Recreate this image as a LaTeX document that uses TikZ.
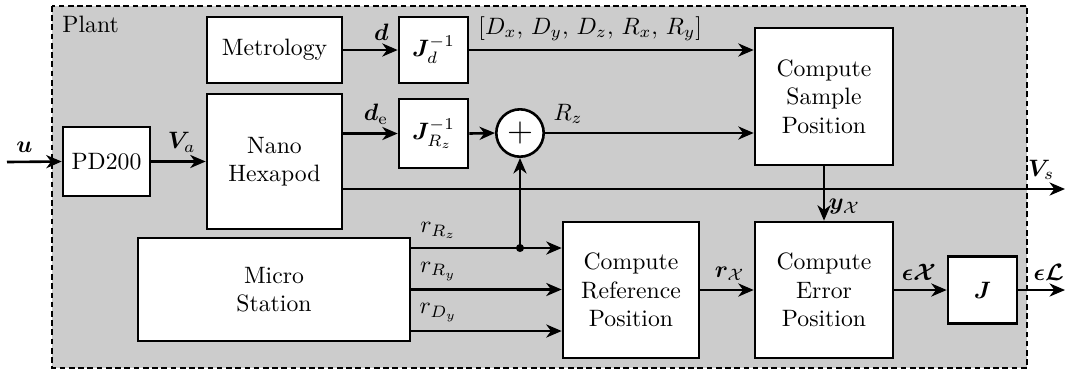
\documentclass[tikz,border=0pt]{standalone}
\usepackage{amsmath,bm}
\usetikzlibrary{arrows.meta,calc}
\definecolor{plantgrau}{HTML}{CCCCCC}
\tikzset{pfeil/.style={line width=1.1pt,-{Stealth[length=6.5pt,width=5.5pt,inset=2pt]}},
  block/.style={draw,line width=1.1pt,fill=white,align=center,inner sep=0pt},
  summe/.style={draw,line width=1.1pt,fill=white,circle,minimum size=20pt,inner sep=0pt},
  rahmen/.style={line width=1.1pt,dash pattern=on 2.4pt off 1.5pt,fill=plantgrau}}

\begin{document}
\begin{tikzpicture}[x=0.422pt,y=-0.422pt]
\useasboundingbox (0,0) rectangle (1067,371);
\draw[rahmen] (52,6) rectangle (1027,368);
\node[anchor=west,inner sep=0pt] (plant) at (62,24) {Plant};
\node[block,minimum width=36.7pt,minimum height=29.1pt] (pd) at (106.5,161.5) {PD200};
\node[block,minimum width=57pt,minimum height=27.8pt] (metro) at (274.5,50) {Metrology};
\node[block,minimum width=57pt,minimum height=57pt] (nano) at (274.5,161.5) {Nano\\Hexapod};
\node[block,minimum width=29.1pt,minimum height=27.8pt] (jd) at (433.5,50) {$\bm{J}_d^{-1}$};
\node[block,minimum width=29.1pt,minimum height=29.1pt] (jrz) at (433.5,133.5) {$\bm{J}_{R_z}^{-1}$};
\node[summe] (summe) at (520,133) {\Large$+$};
\node[block,minimum width=58.2pt,minimum height=57.8pt] (sample) at (824,96.5) {Compute\\Sample\\Position};
\node[block,minimum width=114.8pt,minimum height=43.5pt] (micro) at (274,289.5) {Micro\\Station};
\node[block,minimum width=57.4pt,minimum height=57.4pt] (ref) at (631,290) {Compute\\Reference\\Position};
\node[block,minimum width=58.2pt,minimum height=57.4pt] (err) at (824,290) {Compute\\Error\\Position};
\node[block,minimum width=29.1pt,minimum height=28.3pt] (jac) at (982.5,290) {$\bm{J}$};
\coordinate (uin) at (7,162);
\coordinate (vsout) at (1065,189);
\coordinate (elout) at (1065,290);
\draw[pfeil] (uin) -- (pd.west) node[pos=0.32,above] (lu) {$\bm{u}$};
\draw[pfeil] (pd.west -| pd.east) -- (pd.west -| nano.west) node[pos=0.56,above] (lva) {$\bm{V}_a$};
\draw[pfeil] (metro.east) -- (jd.west) node[pos=0.7,above] (ld) {$\bm{d}$};
\draw[pfeil] (jd.east) -- (jd.east -| sample.west) node[pos=0.425,above] (ldr) {$[D_x,\,D_y,\,D_z,\,R_x,\,R_y]$};
\draw[pfeil] (nano.east |- jrz.west) -- (jrz.west) node[pos=0.6,above] (lde) {$\bm{d}_{\mathrm{e}}$};
\draw[pfeil] (jrz.east) -- (summe.west);
\draw[pfeil] (summe.east) -- (summe.east -| sample.west) node[pos=0.11,above] (lrz) {$R_z$};
\draw[pfeil] (nano.east |- vsout) -- (vsout) node[pos=0.967,above] (lvs) {$\bm{V}_s$};
\draw[pfeil] (sample.south) -- (err.north) node[pos=0.74,right,inner sep=1.5pt] (lyx) {$\bm{y}_{\mathcal{X}}$};
\foreach \dy/\nm/\lab in {-41.5/rz/{r_{R_z}},0/ry/{r_{R_y}},41.5/dy/{r_{D_y}}}
  \draw[pfeil] ($(micro.east)+(0,\dy)$) coordinate (m\nm) -- (m\nm -| ref.west) node[pos=0.18,above] (l\nm) {$\lab$};
\coordinate (knoten) at (summe.south |- mrz);
\fill (knoten) circle (1.7pt);
\draw[pfeil] (knoten) -- (summe.south);
\draw[pfeil] (ref.east) -- (err.west) node[pos=0.55,above] (lrx) {$\bm{r}_{\mathcal{X}}$};
\draw[pfeil] (err.east) -- (jac.west) node[pos=0.47,above] (lex) {$\bm{\epsilon\mathcal{X}}$};
\draw[pfeil] (jac.east) -- (elout) node[pos=0.65,above] (lel) {$\bm{\epsilon\mathcal{L}}$};
\end{tikzpicture}
\end{document}
